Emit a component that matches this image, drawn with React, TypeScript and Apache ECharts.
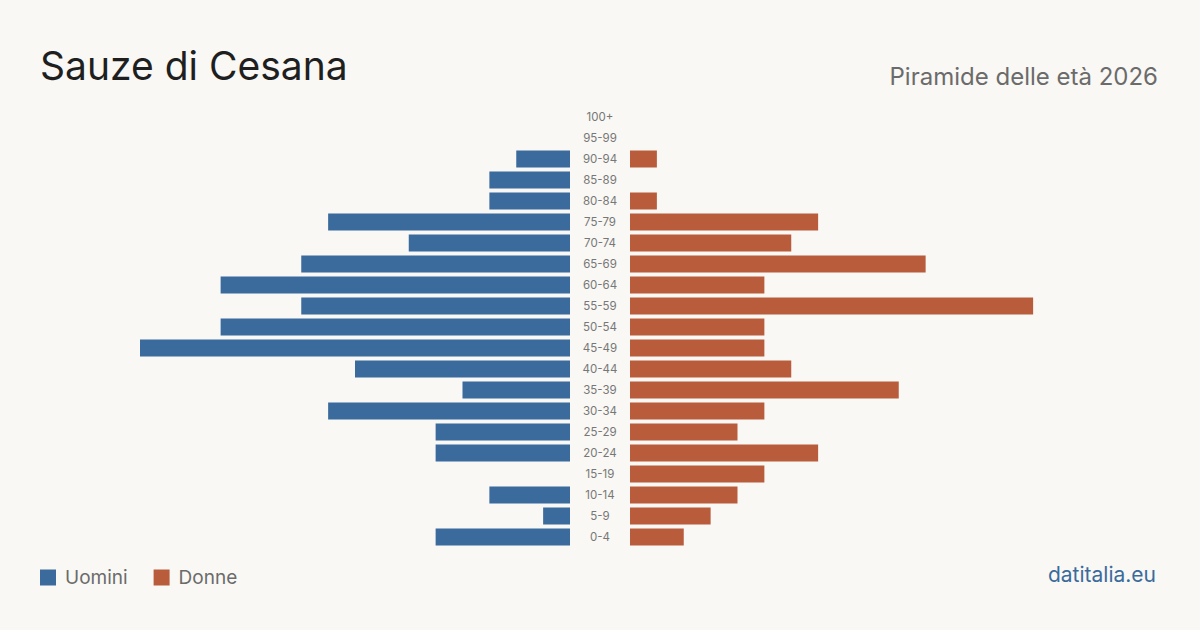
import React, { useEffect, useRef } from "react";
import * as echarts from "echarts";

// Age classes, bottom to top
const ageClasses = [
  "0-4", "5-9", "10-14", "15-19", "20-24", "25-29", "30-34", "35-39", "40-44", "45-49",
  "50-54", "55-59", "60-64", "65-69", "70-74", "75-79", "80-84", "85-89", "90-94", "95-99", "100+",
];
const men = [5, 1, 3, 0, 5, 5, 9, 4, 8, 16, 13, 10, 13, 10, 6, 9, 3, 3, 2, 0, 0];
const women = [2, 3, 4, 5, 7, 4, 5, 10, 6, 5, 5, 15, 5, 11, 6, 7, 1, 0, 1, 0, 0];

const BLUE = "#3b6b9c";
const ORANGE = "#b95c3c";
const BG = "#f9f8f4";
const FONT = "Inter, 'Noto Sans', sans-serif";

export default function App() {
  const ref = useRef<HTMLDivElement>(null);

  useEffect(() => {
    if (!ref.current) return;
    const chart = echarts.init(ref.current, null, { renderer: "svg" });
    const gridTop = 106.5;
    const gridHeight = 441;
    chart.setOption({
      animation: false,
      backgroundColor: BG,
      textStyle: { fontFamily: FONT },
      title: [
        {
          text: "Sauze di Cesana",
          left: 35,
          top: 41,
          textStyle: { fontFamily: FONT, fontSize: 39, fontWeight: "normal", color: "#1f1f1f" },
        },
        {
          text: "Piramide delle età 2026",
          right: 37,
          top: 59,
          textStyle: { fontFamily: FONT, fontSize: 24, fontWeight: "normal", color: "#6b6b6b" },
        },
        {
          text: "datitalia.eu",
          right: 39,
          top: 559,
          textStyle: { fontFamily: FONT, fontSize: 21, fontWeight: "normal", color: BLUE },
        },
      ],
      legend: {
        left: 40,
        top: 568,
        padding: 0,
        itemWidth: 16,
        itemHeight: 16,
        itemGap: 26,
        icon: "rect",
        textStyle: { fontFamily: FONT, fontSize: 19, color: "#6b6b6b", padding: [0, 0, 0, 4] },
        data: ["Uomini", "Donne"],
      },
      grid: [
        { left: 32.5, width: 537.5, top: gridTop, height: gridHeight },
        { left: 630, width: 537.5, top: gridTop, height: gridHeight },
      ],
      xAxis: [
        { gridIndex: 0, type: "value", min: 0, max: 20, inverse: true, show: false },
        { gridIndex: 1, type: "value", min: 0, max: 20, show: false },
      ],
      yAxis: [
        {
          gridIndex: 0,
          type: "category",
          data: ageClasses,
          position: "right",
          axisLine: { show: false },
          axisTick: { show: false },
          axisLabel: {
            align: "center",
            margin: 30,
            fontFamily: FONT,
            fontSize: 11.5,
            color: "#777777",
          },
        },
        {
          gridIndex: 1,
          type: "category",
          data: ageClasses,
          show: false,
        },
      ],
      series: [
        {
          name: "Uomini",
          type: "bar",
          xAxisIndex: 0,
          yAxisIndex: 0,
          data: men,
          barWidth: 17,
          itemStyle: { color: BLUE },
        },
        {
          name: "Donne",
          type: "bar",
          xAxisIndex: 1,
          yAxisIndex: 1,
          data: women,
          barWidth: 17,
          itemStyle: { color: ORANGE },
        },
      ],
    });
    return () => chart.dispose();
  }, []);

  return (
    <div
      ref={ref}
      style={{ position: "absolute", left: 0, top: 0, width: 1200, height: 630 }}
    />
  );
}
